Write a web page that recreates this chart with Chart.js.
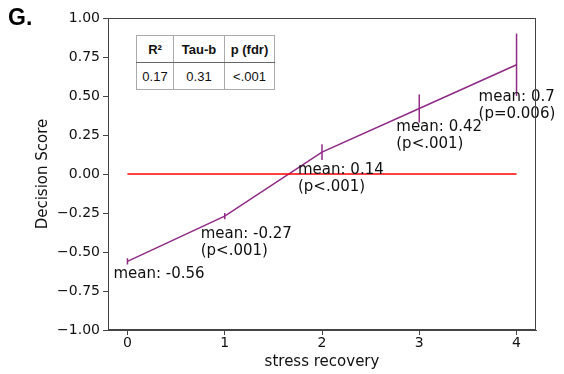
<!DOCTYPE html>
<html>
<head>
<meta charset="utf-8">
<script src="https://cdn.jsdelivr.net/npm/chart.js@4.4.1/dist/chart.umd.min.js"></script>
<style>
  html, body { margin: 0; padding: 0; background: #fff; }
  #wrap { position: relative; width: 564px; height: 374px; }
  #panel { position: absolute; left: 8px; top: 4px; font: bold 23px 'Liberation Sans', Arial, sans-serif; color: #000; }
  #stats { position: absolute; left: 136px; top: 35px; border-collapse: collapse;
           font: 13px 'Liberation Sans', Arial, sans-serif; color: #111; background: #fff; }
  #stats td { border: 1px solid #aaa; text-align: center; height: 26px; padding: 0; }
  #stats tr.head td { font-weight: bold; border-bottom: 1.5px solid #666; }
</style>
</head>
<body>
<div id="wrap">
  <canvas id="chart" width="564" height="374"></canvas>
  <div id="panel">G.</div>
  <table id="stats">
    <tr class="head"><td style="width:36px"></td><td style="width:50px"></td><td style="width:49px"></td></tr>
    <tr class="body"><td></td><td></td><td></td></tr>
  </table>
</div>
<script>
// data
const categories = [0, 1, 2, 3, 4];
const means = [-0.56, -0.27, 0.14, 0.42, 0.70];
const errors = [0.02, 0.02, 0.05, 0.09, 0.20];
const meanLabels = ['mean: -0.56', 'mean: -0.27', 'mean: 0.14', 'mean: 0.42', 'mean: 0.7'];
const pLabels = ['', '(p<.001)', '(p<.001)', '(p<.001)', '(p=0.006)'];
const refX = [0, 4];
const refY = [0, 0];
const xTicks = [0, 1, 2, 3, 4];
const tableHeader = ['R²', 'Tau-b', 'p (fdr)'];
const tableValues = ['0.17', '0.31', '<.001'];

// label offsets in px from each point (left edge, first baseline)
const labelOffsets = [[-14, 17], [-24, 22], [-24, 22], [-23, 23], [-38, 36]];

const purple = '#8f2b86';
const axisFont = { family: "'DejaVu Sans', sans-serif", size: 14 };
const titleFont = { family: "'DejaVu Sans', sans-serif", size: 15 };

document.querySelectorAll('#stats tr.head td').forEach((td, i) => td.textContent = tableHeader[i]);
document.querySelectorAll('#stats tr.body td').forEach((td, i) => td.textContent = tableValues[i]);

const fmt = (v) => v.toFixed(2).replace('-', '\u2212');

// error bars, frame and mean labels
const extras = {
    id: 'extras',
    afterDatasetsDraw(chart) {
        const ctx = chart.ctx;
        const xs = chart.scales.x, ys = chart.scales.y;
        ctx.save();
        ctx.strokeStyle = purple;
        ctx.lineWidth = 1.5;
        categories.forEach((c, i) => {
            const px = xs.getPixelForValue(c);
            ctx.beginPath();
            ctx.moveTo(px, ys.getPixelForValue(means[i] - errors[i]));
            ctx.lineTo(px, ys.getPixelForValue(means[i] + errors[i]));
            ctx.stroke();
        });
        ctx.fillStyle = '#111';
        ctx.font = "15px 'DejaVu Sans', sans-serif";
        ctx.textBaseline = 'alphabetic';
        categories.forEach((c, i) => {
            const px = xs.getPixelForValue(c) + labelOffsets[i][0];
            const py = ys.getPixelForValue(means[i]) + labelOffsets[i][1];
            ctx.fillText(meanLabels[i], px, py);
            if (pLabels[i]) ctx.fillText(pLabels[i], px, py + 17);
        });
        const a = chart.chartArea;
        ctx.strokeStyle = '#444';
        ctx.lineWidth = 1;
        ctx.strokeRect(a.left + 0.5, a.top + 0.5, a.right - a.left - 1, a.bottom - a.top - 1);
        ctx.restore();
    }
};

new Chart(document.getElementById('chart'), {
    type: 'line',
    data: {
        datasets: [{
            data: refX.map((x, i) => ({ x, y: refY[i] })),
            borderColor: '#ff0000',
            borderWidth: 1.5,
            pointRadius: 0
        }, {
            data: categories.map((x, i) => ({ x, y: means[i] })),
            borderColor: purple,
            borderWidth: 1.5,
            pointRadius: 0,
            tension: 0
        }]
    },
    options: {
        responsive: false,
        animation: false,
        devicePixelRatio: 1,
        layout: { padding: { left: 0, right: 28, top: 18, bottom: 0 } },
        plugins: { legend: { display: false }, tooltip: { enabled: false } },
        scales: {
            x: {
                type: 'linear',
                min: -0.2,
                max: 4.2,
                afterBuildTicks: (s) => { s.ticks = xTicks.map(v => ({ value: v })); },
                afterFit: (s) => { s.height = 44; },
                ticks: { color: '#111', font: axisFont, padding: 0, maxRotation: 0 },
                grid: { drawOnChartArea: false, tickLength: 5, color: '#444' },
                border: { color: '#444' },
                title: { display: true, text: 'stress recovery', color: '#111', font: titleFont, padding: { top: 0, bottom: 3 } }
            },
            y: {
                min: -1,
                max: 1,
                afterFit: (s) => { s.width = 108; },
                ticks: { stepSize: 0.25, color: '#111', font: axisFont, padding: 3, callback: (v) => fmt(v) },
                grid: { drawOnChartArea: false, tickLength: 5, color: '#444' },
                border: { color: '#444' },
                title: { display: true, text: 'Decision Score', color: '#111', font: titleFont, padding: { top: 34, bottom: 0 } }
            }
        }
    },
    plugins: [extras]
});
</script>
</body>
</html>
